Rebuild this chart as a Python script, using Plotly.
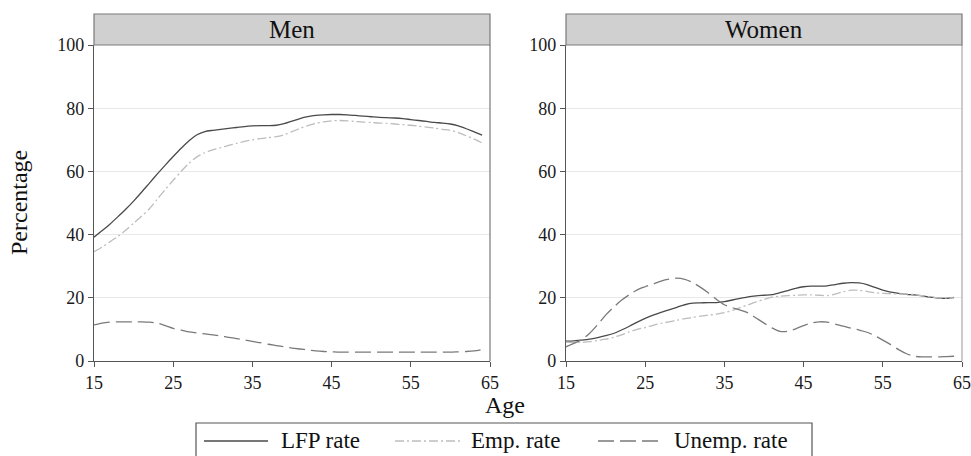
import plotly.graph_objects as go

# Age grid (years)
ages = list(range(15, 65))

# Men: labour-force participation, employment and unemployment rates (%)
men_lfp = [39.2, 41.2, 43.3, 45.6, 48.0, 50.6, 53.4, 56.3, 59.2, 62.0,
           64.7, 67.3, 69.7, 71.6, 72.6, 73.0, 73.3, 73.6, 73.9, 74.2,
           74.4, 74.5, 74.5, 74.6, 75.1, 75.9, 76.7, 77.3, 77.7, 77.9,
           78.0, 78.0, 77.9, 77.7, 77.5, 77.3, 77.1, 77.0, 76.9, 76.7,
           76.4, 76.1, 75.8, 75.5, 75.3, 75.0, 74.4, 73.5, 72.5, 71.5]
men_emp = [34.6, 36.0, 37.7, 39.4, 41.4, 43.6, 45.8, 48.2, 51.2, 54.3,
           57.2, 60.0, 62.6, 64.6, 65.9, 66.8, 67.5, 68.2, 68.9, 69.5,
           70.0, 70.4, 70.7, 71.0, 71.6, 72.6, 73.6, 74.5, 75.2, 75.7,
           76.0, 76.1, 76.0, 75.8, 75.6, 75.5, 75.3, 75.2, 75.0, 74.8,
           74.6, 74.3, 74.0, 73.7, 73.3, 73.0, 72.3, 71.3, 70.2, 69.0]
men_unemp = [11.4, 12.0, 12.3, 12.4, 12.4, 12.4, 12.4, 12.3, 12.0, 11.2,
             10.3, 9.8, 9.2, 8.9, 8.6, 8.3, 7.9, 7.5, 7.1, 6.7,
             6.2, 5.8, 5.3, 4.9, 4.5, 4.1, 3.8, 3.5, 3.2, 3.0,
             2.9, 2.8, 2.8, 2.8, 2.8, 2.8, 2.8, 2.8, 2.8, 2.8,
             2.8, 2.8, 2.8, 2.8, 2.8, 2.8, 2.9, 3.0, 3.2, 3.6]

# Women: same three rates (%)
women_lfp = [6.3, 6.4, 6.6, 6.9, 7.4, 8.0, 8.7, 9.8, 11.0, 12.3,
             13.5, 14.5, 15.4, 16.2, 17.0, 17.8, 18.3, 18.4, 18.5, 18.5,
             18.8, 19.3, 19.8, 20.3, 20.6, 20.8, 21.0, 21.6, 22.3, 23.0,
             23.5, 23.7, 23.7, 23.8, 24.2, 24.6, 24.8, 24.7, 24.2, 23.3,
             22.4, 21.8, 21.4, 21.1, 20.9, 20.6, 20.2, 19.9, 19.8, 20.1]
women_emp = [6.0, 5.9, 5.9, 6.1, 6.5, 6.9, 7.5, 8.3, 9.2, 10.0,
             10.6, 11.3, 11.9, 12.4, 12.9, 13.4, 13.8, 14.2, 14.5, 14.8,
             15.3, 16.0, 16.9, 17.8, 18.7, 19.5, 20.2, 20.5, 20.7, 20.8,
             20.9, 20.9, 20.8, 20.7, 21.2, 21.9, 22.4, 22.4, 22.0, 21.6,
             21.4, 21.3, 21.2, 21.2, 21.0, 20.7, 20.3, 20.0, 19.9, 20.0]
women_unemp = [4.5, 5.6, 6.8, 8.8, 11.5, 14.5, 17.0, 19.2, 21.0, 22.5,
               23.5, 24.4, 25.3, 25.9, 26.2, 25.8, 24.8, 23.3, 21.5, 19.5,
               17.8, 16.9, 16.1, 15.2, 13.6, 12.0, 10.5, 9.4, 9.4, 10.2,
               11.2, 12.0, 12.4, 12.3, 11.7, 11.0, 10.4, 9.8, 9.1, 8.0,
               6.6, 5.2, 3.6, 2.3, 1.5, 1.3, 1.3, 1.3, 1.4, 1.5]

panel_titles = ["Men", "Women"]
series_names = ["LFP rate", "Emp. rate", "Unemp. rate"]
x_ticks = [15, 25, 35, 45, 55, 65]
y_ticks = [0, 20, 40, 60, 80, 100]

W, H = 971, 456
FONT = "Liberation Serif, Times New Roman, serif"

styles = [
    dict(color="#4a4a4a", width=1.3, dash="solid"),
    dict(color="#bdbdbd", width=1.3, dash="9px,3px,2px,3px"),
    dict(color="#7a7a7a", width=1.3, dash="16px,6px"),
]

panels = [
    (men_lfp, men_emp, men_unemp),
    (women_lfp, women_emp, women_unemp),
]

fig = go.Figure()
for p, series in enumerate(panels):
    xa = "x" if p == 0 else "x2"
    ya = "y" if p == 0 else "y2"
    for name, vals, st in zip(series_names, series, styles):
        fig.add_trace(go.Scatter(
            x=ages, y=vals, mode="lines", name=name,
            line=dict(color=st["color"], width=st["width"], dash=st["dash"],
                      shape="spline", smoothing=0.8),
            xaxis=xa, yaxis=ya, showlegend=False, hoverinfo="skip",
        ))

# Panel placement in pixels
px_left = [(94, 490), (566, 962)]
plot_top, plot_bot = 45, 361
strip_top = 14


def fx(px):
    return px / W


def fy(py):
    return 1 - py / H


axis_common = dict(
    showline=True, linecolor="#555555", linewidth=1.2,
    ticks="outside", ticklen=5, tickcolor="#555555", tickwidth=1,
    tickfont=dict(family=FONT, size=18, color="#1a1a1a"),
    zeroline=False, automargin=False,
)

layout = dict(
    width=W, height=H, autosize=False,
    margin=dict(l=0, r=0, t=0, b=0, pad=0),
    paper_bgcolor="white", plot_bgcolor="white",
    showlegend=False,
    font=dict(family=FONT, color="#1a1a1a"),
)
for p in range(2):
    xs = "" if p == 0 else "2"
    x0, x1 = px_left[p]
    layout["xaxis" + xs] = dict(
        axis_common, domain=[fx(x0), fx(x1)], range=[15, 65],
        tickvals=x_ticks, showgrid=False,
        anchor="y" + xs,
    )
    layout["yaxis" + xs] = dict(
        axis_common, domain=[fy(plot_bot), fy(plot_top)], range=[0, 100],
        tickvals=y_ticks, showgrid=True, gridcolor="#e8e8e8", gridwidth=1.2,
        anchor="x" + xs,
    )
fig.update_layout(**layout)

shapes = []
annotations = []
for p in range(2):
    xs = "" if p == 0 else "2"
    # right border of the plot region
    shapes.append(dict(
        type="line", xref="x" + xs + " domain", yref="y" + xs + " domain",
        x0=1, x1=1, y0=0, y1=1,
        line=dict(color="#777777" if p == 0 else "#aaaaaa", width=1.2),
    ))
    # grey title strip
    shapes.append(dict(
        type="rect", xref="x" + xs + " domain", yref="paper",
        x0=0, x1=1, y0=fy(plot_top), y1=fy(strip_top),
        fillcolor="#d0d0d0", line=dict(color="#7a7a7a", width=1.2),
        layer="above",
    ))
    annotations.append(dict(
        text=panel_titles[p], xref="x" + xs + " domain", yref="paper",
        x=0.5, y=fy((strip_top + plot_top) / 2), showarrow=False,
        xanchor="center", yanchor="middle",
        font=dict(family=FONT, size=25, color="#111111"),
    ))

# axis titles
annotations.append(dict(
    text="Age", xref="paper", yref="paper", x=fx(505), y=fy(405),
    showarrow=False, xanchor="center", yanchor="middle",
    font=dict(family=FONT, size=24, color="#111111"),
))
annotations.append(dict(
    text="Percentage", xref="paper", yref="paper", x=fx(19), y=fy(203),
    showarrow=False, xanchor="center", yanchor="middle", textangle=-90,
    font=dict(family=FONT, size=24, color="#111111"),
))

# legend box with line keys
shapes.append(dict(
    type="rect", xref="paper", yref="paper",
    x0=fx(196), x1=fx(812), y0=fy(470), y1=fy(423),
    line=dict(color="#555555", width=1.2), fillcolor="rgba(0,0,0,0)",
))
key_x = [(204, 268, 280), (395, 460, 470), (598, 662, 673)]
for name, st, (k0, k1, tx) in zip(series_names, styles, key_x):
    shapes.append(dict(
        type="line", xref="paper", yref="paper",
        x0=fx(k0), x1=fx(k1), y0=fy(441), y1=fy(441),
        line=dict(color=st["color"], width=st["width"], dash=st["dash"]),
    ))
    annotations.append(dict(
        text=name, xref="paper", yref="paper", x=fx(tx), y=fy(440),
        showarrow=False, xanchor="left", yanchor="middle", borderpad=0,
        font=dict(family=FONT, size=23, color="#111111"),
    ))

fig.update_layout(shapes=shapes, annotations=annotations)
fig.write_html("out.html")
